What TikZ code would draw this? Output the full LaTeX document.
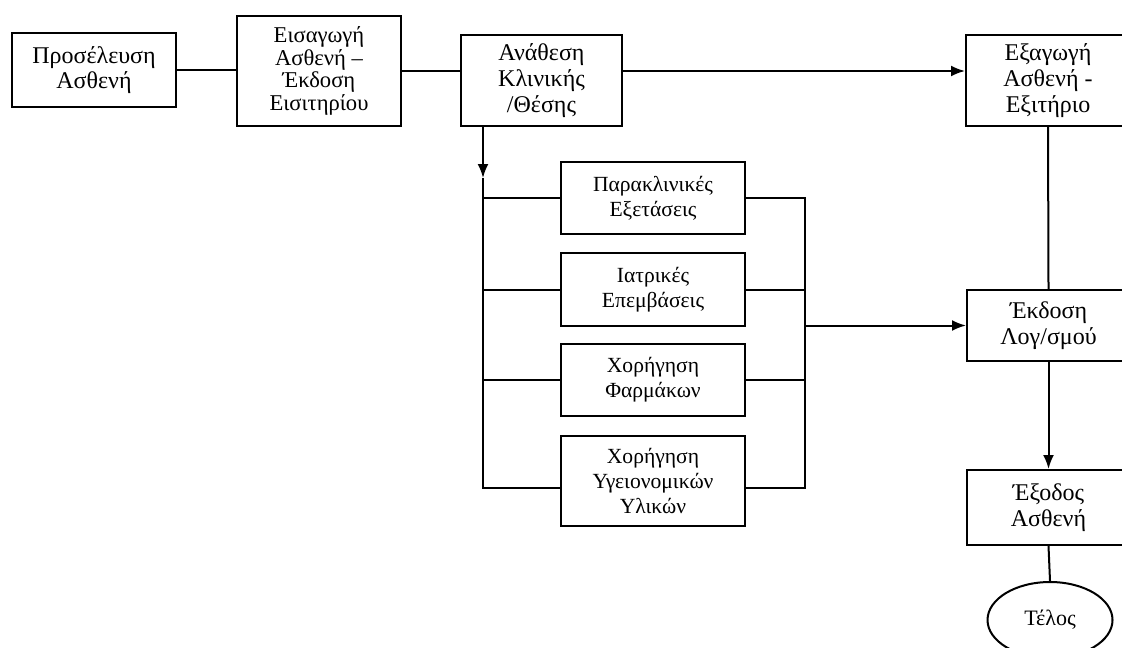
\documentclass[tikz,border=0pt]{standalone}
\usepackage{fontspec}
\setmainfont{Liberation Serif}
\usetikzlibrary{arrows,arrows.meta,shapes}
\tikzstyle{block}=[rectangle, draw
,line width=1pt
,align=center
,inner sep=0pt
,font=\fontsize{12}{12.8}\selectfont
]
\tikzstyle{small block} = [block, font=\fontsize{10.8}{12.5}\selectfont]
\tikzstyle{terminal} = [ellipse, draw, line width=1pt, inner sep=0pt, font=\fontsize{11}{12}\selectfont]
\tikzstyle{edge} = [draw,line width=1pt,-]
\tikzstyle{arrow edge} = [edge,-{Latex[length=7pt,width=5.5pt]}]

\begin{document}
\begin{tikzpicture}[x=0.5pt,y=-0.5pt]
    \useasboundingbox (0,0) rectangle (1122,647);
    \clip (0,0) rectangle (1122,647);
    % Main line of the flow
    \node[block, minimum width=82pt, minimum height=37pt] (pros) at (94,70) {Προσέλευση\\Ασθενή};
    \node[small block, font=\fontsize{11.3}{11.4}\selectfont, minimum width=82pt, minimum height=55pt] (eisag) at (319,71) {Εισαγωγή\\Ασθενή –\\Έκδοση\\Εισιτηρίου};
    \node[block, minimum width=80.5pt, minimum height=45.5pt] (anath) at (541.5,80.5) {Ανάθεση\\Κλινικής\\/Θέσης};
    \node[block, minimum width=82pt, minimum height=45.5pt] (exag) at (1048,80.5) {Εξαγωγή\\Ασθενή -\\Εξιτήριο};

    % Services given during the stay
    \foreach \pos/\name/\boxht/\txt in {{(653,198)/parakl/36pt/Παρακλινικές\\Εξετάσεις}, {(653,289.5)/iatr/36.5pt/Ιατρικές\\Επεμβάσεις}, {(653,380)/farm/36pt/Χορήγηση\\Φαρμάκων}, {(653,481)/ylika/45pt/Χορήγηση\\Υγειονομικών\\Υλικών}}
        \node[small block, minimum width=92pt, minimum height=\boxht] (\name) at \pos {\txt};

    % Right column
    \node[block, minimum width=81.5pt, minimum height=35.5pt] (ekdosi) at (1048.5,325.5) {Έκδοση\\Λογ/σμού};
    \node[block, minimum width=81.5pt, minimum height=37.5pt] (exodos) at (1048.5,507.5) {Έξοδος\\Ασθενή};
    \node[terminal, minimum width=62.5pt, minimum height=38pt] (telos) at (1050,620) {Τέλος};

    % Connect the boxes
    \path[edge] (pros.east) -- (pros.east -| eisag.west);
    \path[edge] (eisag.east) -- (eisag.east -| anath.west);
    \path[arrow edge] (anath.east |- eisag.east) -- (exag.west |- eisag.east);

    \coordinate (lbus) at (483,178);
    \coordinate (lend) at (483,488);
    \path[arrow edge] (anath.south -| lbus) -- (lbus);
    \path[edge] (lbus) -- (lend) -- (lend -| ylika.west);
    \foreach \name in {parakl,iatr,farm}
        \path[edge] (lbus |- \name.west) -- (\name.west);

    \coordinate (rtop) at (805,198);
    \coordinate (rend) at (805,488);
    \path[edge] (parakl.east) -- (rtop) -- (rend) -- (ylika.east |- rend);
    \foreach \name in {iatr,farm}
        \path[edge] (\name.east) -- (rtop |- \name.east);
    \path[arrow edge] (rtop |- ekdosi.west) -- (ekdosi.west);

    \path[edge] (exag.south) -- (ekdosi.north);
    \path[arrow edge] (ekdosi.south) -- (exodos.north);
    \path[edge] (exodos.south) -- (telos.north);
\end{tikzpicture}
\end{document}
